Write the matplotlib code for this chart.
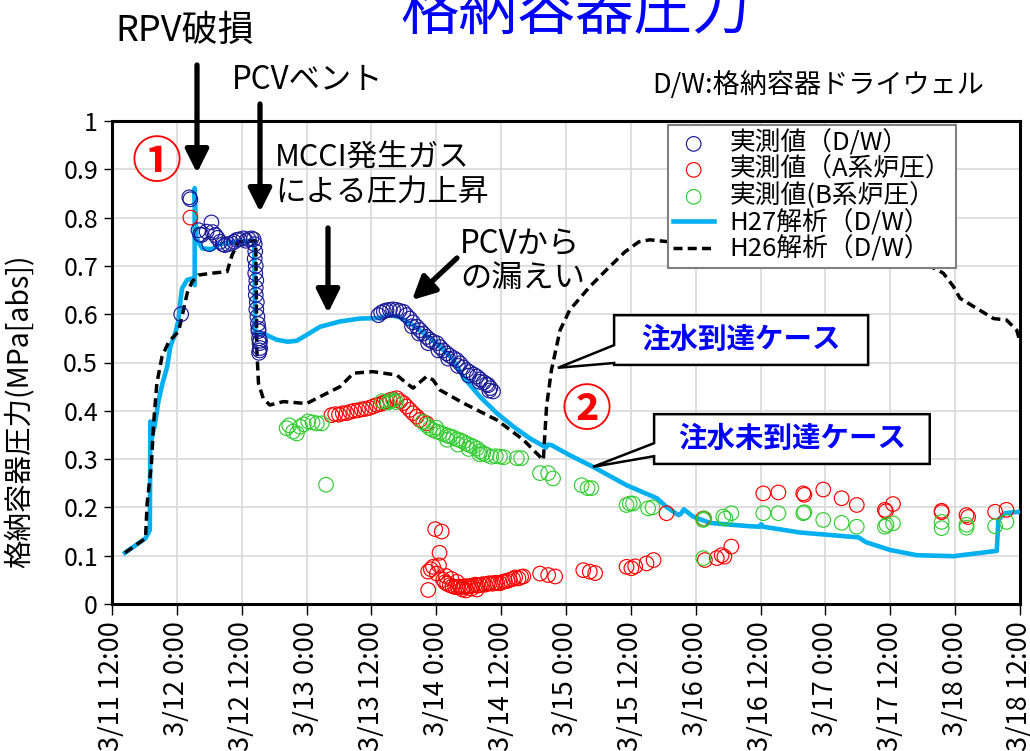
import matplotlib
matplotlib.use("Agg")
import matplotlib.pyplot as plt
from matplotlib.patches import Polygon, FancyArrowPatch
from matplotlib.ticker import FixedLocator, FuncFormatter

plt.rcParams['font.family'] = ['Noto Sans CJK JP', 'DejaVu Sans']

# ---- data (x in hours after 3/11 12:00) ----
tick_hours = [0, 12, 24, 36, 48, 60, 72, 84, 96, 108, 120, 132, 144, 156, 168]
tick_labels = ["3/11 12:00", "3/12 0:00", "3/12 12:00", "3/13 0:00", "3/13 12:00",
               "3/14 0:00", "3/14 12:00", "3/15 0:00", "3/15 12:00", "3/16 0:00",
               "3/16 12:00", "3/17 0:00", "3/17 12:00", "3/18 0:00", "3/18 12:00"]

h27_x = [2.4, 6.2, 7.0, 7.1, 7.3, 7.9, 8.6, 9.3, 10.2, 10.8, 11.7, 12.3, 12.6, 12.95,
         13.9, 14.9, 15.3, 15.3, 15.6, 16.2, 16.7, 18.5, 20.0, 23.0, 26.3, 26.5, 28.0,
         30.5, 32.5, 34.2, 36.0, 38.5, 42.2, 45.9, 49.5, 51.0, 53.0, 56.0, 60.0, 63.0,
         65.0, 68.1, 71.2, 74.3, 77.3, 80.3, 80.7, 81.3, 84.7, 89.0, 95.2, 100.8, 102.6,
         104.8, 105.2, 105.8, 106.5, 107.5, 110.6, 112.5, 118.0, 119.9, 120.1, 120.5,
         127.3, 138.1, 139.5, 143.9, 148.9, 155.7, 163.7, 164.0, 165.2, 168.0]
h27_y = [0.106, 0.136, 0.153, 0.378, 0.34, 0.37, 0.42, 0.455, 0.491, 0.533, 0.560, 0.588,
         0.623, 0.653, 0.671, 0.674, 0.66, 0.861, 0.76, 0.745, 0.736, 0.735, 0.745, 0.75,
         0.752, 0.561, 0.560, 0.547, 0.543, 0.545, 0.557, 0.574, 0.585, 0.591, 0.592,
         0.598, 0.595, 0.575, 0.540, 0.508, 0.470, 0.429, 0.395, 0.367, 0.343, 0.324,
         0.330, 0.329, 0.308, 0.284, 0.246, 0.219, 0.201, 0.184, 0.186, 0.196, 0.190,
         0.181, 0.168, 0.166, 0.161, 0.160, 0.165, 0.160, 0.148, 0.138, 0.128, 0.112,
         0.101, 0.099, 0.110, 0.174, 0.188, 0.191]

h26_x = [2.4, 6.2, 6.5, 7.3, 7.7, 8.3, 9.25, 10.5, 12.3, 12.95, 13.9, 14.8, 16.0, 18.5,
         21.3, 22.2, 23.4, 26.6, 26.8, 27.1, 28.0, 29.2, 31.7, 36.0, 39.7, 42.2, 44.7,
         48.3, 52.7, 54.5, 55.7, 58.2, 59.4, 60.7, 65.0, 71.2, 76.1, 79.8, 80.4, 81.3,
         82.9, 84.7, 88.4, 91.5, 94.9, 97.5, 99.5, 103.0, 120.0, 135.0, 148.0, 153.8,
         155.7, 156.9, 160.0, 163.1, 165.5, 167.4, 168.0]
h26_y = [0.106, 0.136, 0.208, 0.291, 0.374, 0.457, 0.512, 0.543, 0.564, 0.595, 0.643,
         0.667, 0.681, 0.685, 0.688, 0.722, 0.750, 0.752, 0.526, 0.457, 0.425, 0.412,
         0.419, 0.415, 0.436, 0.450, 0.478, 0.481, 0.474, 0.457, 0.447, 0.471, 0.464,
         0.443, 0.416, 0.381, 0.340, 0.298, 0.409, 0.484, 0.567, 0.609, 0.657, 0.692,
         0.729, 0.750, 0.754, 0.750, 0.750, 0.740, 0.720, 0.685, 0.657, 0.633, 0.612,
         0.591, 0.588, 0.567, 0.543]

dw_x = [12.8, 14.3, 14.5, 16.0, 16.3, 16.6, 17.5, 18.4, 18.0, 18.6, 19.1, 19.5, 20.0,
        20.5, 20.9, 21.5, 22.1, 22.6, 23.1, 23.6, 24.3, 24.8, 25.3, 25.8, 26.2,
        26.4, 26.5, 26.4, 26.6, 26.5, 26.7, 26.6, 26.6, 26.8, 26.7, 26.9, 27.0, 27.1,
        27.2, 27.3, 27.4, 27.2, 27.4, 27.1, 27.3,
        49.3, 49.8, 50.3, 50.8, 51.4, 52.0, 52.6, 53.2, 53.9, 54.5, 55.1, 55.7, 56.4,
        57.0, 57.6, 58.2, 58.8, 59.4, 60.1, 60.7, 61.3, 61.9, 62.5, 63.2, 63.8, 64.4,
        65.0, 65.6, 66.2, 66.9, 67.5, 68.1, 68.8, 69.3, 69.6, 70.0, 70.5,
        55.5, 56.8, 58.5, 60.4, 62.2, 64.0, 66.0, 68.0, 69.8]
dw_y = [0.600, 0.842, 0.838, 0.774, 0.765, 0.764, 0.771, 0.790, 0.745, 0.770, 0.764,
        0.758, 0.750, 0.745, 0.743, 0.745, 0.747, 0.750, 0.754, 0.755, 0.757, 0.752,
        0.755, 0.757, 0.755,
        0.745, 0.730, 0.715, 0.700, 0.685, 0.670, 0.655, 0.640, 0.625, 0.610, 0.595,
        0.580, 0.565, 0.550, 0.540, 0.530, 0.520, 0.545, 0.570, 0.525,
        0.598, 0.603, 0.606, 0.608, 0.609, 0.610, 0.609, 0.607, 0.605, 0.598, 0.591,
        0.583, 0.574, 0.567, 0.560, 0.553, 0.547, 0.543, 0.540, 0.532, 0.525, 0.519,
        0.514, 0.509, 0.505, 0.498, 0.490, 0.484, 0.480, 0.475, 0.471, 0.465, 0.459,
        0.455, 0.453, 0.447, 0.440,
        0.575, 0.560, 0.540, 0.525, 0.508, 0.493, 0.473, 0.460, 0.442]

a_x = [14.5,
       40.6, 41.3, 42.0, 42.7, 43.4, 44.1, 44.8, 45.5, 46.2, 46.9, 47.6, 48.3, 49.0,
       49.7, 50.3, 50.8, 51.4, 52.0, 52.7, 53.3, 53.9, 54.5, 55.1, 55.7, 56.4, 57.0,
       57.6, 58.2,
       58.5, 58.5, 59.0, 59.4, 59.8, 60.1, 60.6, 61.0, 61.3, 61.6, 62.0, 62.5, 63.0,
       63.5, 64.0, 64.4, 64.9, 65.3, 65.8, 66.2, 66.7, 67.2, 67.6, 68.1, 68.6, 69.0,
       69.5, 69.9, 70.4, 70.9, 71.3, 71.8, 72.3, 72.7, 73.2, 73.6, 74.2, 74.6, 75.2,
       75.7, 76.1, 61.8, 62.8, 63.8, 64.8, 65.5, 66.5, 67.5, 60.5,
       79.2, 80.7, 82.0, 87.2, 88.4, 89.4, 95.2, 96.1, 96.8, 98.9, 100.2, 102.6, 109.4,
       109.7, 111.9, 112.8, 113.3, 114.6, 120.5, 123.3, 127.9, 128.1, 131.6, 135.0,
       137.8, 143.0, 143.2, 144.5, 153.5, 153.5, 158.1, 158.4, 163.4, 165.5]
a_y = [0.800,
       0.391, 0.393, 0.392, 0.395, 0.395, 0.398, 0.400, 0.401, 0.403, 0.404, 0.406,
       0.409, 0.412, 0.414, 0.417, 0.419, 0.422, 0.424, 0.426, 0.420, 0.416, 0.409,
       0.402, 0.395, 0.388, 0.381, 0.377, 0.374,
       0.029, 0.067, 0.072, 0.077, 0.155, 0.063, 0.106, 0.150, 0.050, 0.045, 0.042,
       0.039, 0.037, 0.035, 0.035, 0.036, 0.034, 0.037, 0.036, 0.037, 0.038, 0.040,
       0.038, 0.039, 0.041, 0.040, 0.042, 0.043, 0.042, 0.044, 0.043, 0.043, 0.046,
       0.047, 0.048, 0.050, 0.052, 0.055, 0.053, 0.056, 0.057, 0.058, 0.052, 0.046,
       0.030, 0.028, 0.032, 0.030, 0.080,
       0.063, 0.060, 0.057, 0.070, 0.067, 0.064, 0.077, 0.074, 0.078, 0.084, 0.091,
       0.188, 0.177, 0.091, 0.095, 0.101, 0.098, 0.119, 0.229, 0.231, 0.229, 0.226,
       0.237, 0.219, 0.205, 0.195, 0.192, 0.207, 0.193, 0.190, 0.184, 0.180, 0.191,
       0.195]

b_x = [32.3, 32.8, 33.5, 34.2, 34.8, 35.5, 36.3, 37.1, 37.9, 38.8, 39.6,
       50.0, 51.0, 51.5, 52.0, 52.5,
       57.5, 58.2, 58.8, 59.4, 60.1, 60.7, 61.3, 62.0, 62.5, 63.1, 63.8, 64.4, 65.0,
       65.6, 66.2, 66.8, 67.5, 68.1, 68.7, 69.3, 70.2, 71.0, 71.8, 72.5, 74.9, 75.7,
       60.0, 62.0, 64.0, 66.0, 68.0,
       79.2, 80.7, 81.6, 86.9, 88.0, 88.7, 95.2, 95.8, 96.4, 99.2, 100.0, 109.4,
       109.6, 113.1, 113.5, 114.6, 109.4, 120.5, 123.3, 127.9, 128.1, 131.6, 135.0,
       137.8, 143.0, 143.3, 144.5, 153.5, 153.5, 158.1, 158.1, 163.4, 165.5]
b_y = [0.364, 0.370, 0.357, 0.353, 0.367, 0.372, 0.378, 0.376, 0.374, 0.374, 0.247,
       0.420, 0.417, 0.420, 0.422, 0.418,
       0.377, 0.370, 0.364, 0.360, 0.357, 0.355, 0.352, 0.349, 0.347, 0.345, 0.341,
       0.339, 0.336, 0.332, 0.329, 0.326, 0.322, 0.316, 0.312, 0.309, 0.305, 0.306,
       0.305, 0.304, 0.302, 0.302,
       0.365, 0.340, 0.330, 0.321, 0.310,
       0.271, 0.271, 0.260, 0.246, 0.240, 0.240, 0.205, 0.208, 0.208, 0.198, 0.200,
       0.174, 0.177, 0.181, 0.177, 0.188, 0.095, 0.188, 0.188, 0.188, 0.190, 0.174,
       0.168, 0.160, 0.160, 0.164, 0.167, 0.170, 0.157, 0.164, 0.158, 0.161, 0.170]

legend_labels = ["実測値（D/W）", "実測値（A系炉圧）", "実測値(B系炉圧）",
                 "H27解析（D/W）", "H26解析（D/W）"]

# ---- figure ----
W, H = 1030, 751
fig = plt.figure(figsize=(W / 100, H / 100), dpi=100)
ax = fig.add_axes([112 / W, 1 - 604 / H, 908 / W, 483 / H])

def fp(px, py):
    return (px / W, 1 - py / H)

ax.set_xlim(0, 168)
ax.set_ylim(0, 1)
ax.xaxis.set_major_locator(FixedLocator(tick_hours))
ax.set_xticklabels(tick_labels, rotation=90, fontsize=19.5)
ax.set_yticks([i / 10 for i in range(11)])
ax.yaxis.set_major_formatter(FuncFormatter(lambda v, p: f"{v:g}"))
ax.tick_params(axis='y', labelsize=18, length=6, width=1, direction='out', pad=4)
ax.tick_params(axis='x', length=8, width=1, direction='out', pad=4)
ax.grid(True, color='#D9D9D9', lw=1.2)
ax.set_axisbelow(True)
for s in ax.spines.values():
    s.set_linewidth(2.2)
    s.set_color('black')

ax.set_ylabel("格納容器圧力(MPa[abs])", fontsize=20.5)
ax.yaxis.set_label_coords(-0.085, 0.40)

sc_kw = dict(s=110, facecolors='none', linewidths=0.85, zorder=4)
h1 = ax.scatter(dw_x, dw_y, edgecolors='#1A1A96', label=legend_labels[0], **sc_kw)
h2 = ax.scatter(a_x, a_y, edgecolors='#FF0000', label=legend_labels[1], **sc_kw)
h3 = ax.scatter(b_x, b_y, edgecolors='#33CC33', label=legend_labels[2], **sc_kw)
l1, = ax.plot(h27_x, h27_y, color='#00B0F0', lw=3.3, label=legend_labels[3], zorder=3,
              solid_joinstyle='round')
l2, = ax.plot(h26_x, h26_y, color='black', lw=2.5, dashes=(2.6, 1.5),
              label=legend_labels[4], zorder=3)

leg = ax.legend(handles=[h1, h2, h3, l1, l2], loc='upper left',
                bbox_to_anchor=(0.6123, 0.9917), fontsize=18.5, frameon=True,
                fancybox=False, framealpha=1, edgecolor='#808080',
                handlelength=1.6, handletextpad=0.6, labelspacing=0.0,
                borderpad=0.2, borderaxespad=0)
leg.get_frame().set_linewidth(1.5)
leg.set_zorder(6)

# callout boxes (data coordinates)
def callout(x0, x1, y0, y1, b0, b1, tip, text):
    verts = [(x0, y1), (x1, y1), (x1, y0), (x0, y0), (x0, b0), tip, (x0, b1)]
    ax.add_patch(Polygon(verts, closed=True, facecolor='white', edgecolor='black',
                         lw=1.8, zorder=7))
    ax.text((x0 + x1) / 2, (y0 + y1) / 2, text, color='#0000FF', fontsize=20.5,
            fontweight='bold', ha='center', va='center', zorder=8)

callout(92.9, 139.9, 0.495, 0.598, 0.499, 0.536, (82.5, 0.489), "注水到達ケース")
callout(100.3, 151.3, 0.290, 0.393, 0.306, 0.333, (89.0, 0.284), "注水未到達ケース")

# texts in figure
fig.text(*fp(575, 12), "格納容器圧力", color='#0000FF', fontsize=42,
         ha='center', va='center')
fig.text(*fp(115, 31), "RPV破損", fontsize=26, ha='left', va='center')
fig.text(*fp(232, 80), "PCVベント", fontsize=22.5, ha='left', va='center')
fig.text(*fp(275, 175), "MCCI発生ガス\nによる圧力上昇", fontsize=22, ha='left',
         va='center', linespacing=1.12)
fig.text(*fp(460, 261), "PCVから\nの漏えい", fontsize=22.5, ha='left', va='center',
         linespacing=1.1)
fig.text(*fp(652, 85), "D/W:格納容器ドライウェル", fontsize=19.5, ha='left', va='center')
fig.text(*fp(157, 163), "①", color='#FF0000', fontsize=36, fontweight='bold',
         ha='center', va='center')
fig.text(*fp(587, 412), "②", color='#FF0000', fontsize=36, fontweight='bold',
         ha='center', va='center')

def arrow(p0, p1):
    a = FancyArrowPatch(fp(*p0), fp(*p1), transform=fig.transFigure,
                        arrowstyle='-|>,head_length=0.7,head_width=0.35',
                        mutation_scale=20, lw=3.8, color='black', shrinkA=0,
                        shrinkB=0, zorder=9)
    fig.patches.append(a)

arrow((197, 65), (197, 173))
arrow((260, 104), (260, 212))
arrow((328, 228), (328, 313))
arrow((457, 258), (412, 300))

fig.savefig("out.png", dpi=100)
